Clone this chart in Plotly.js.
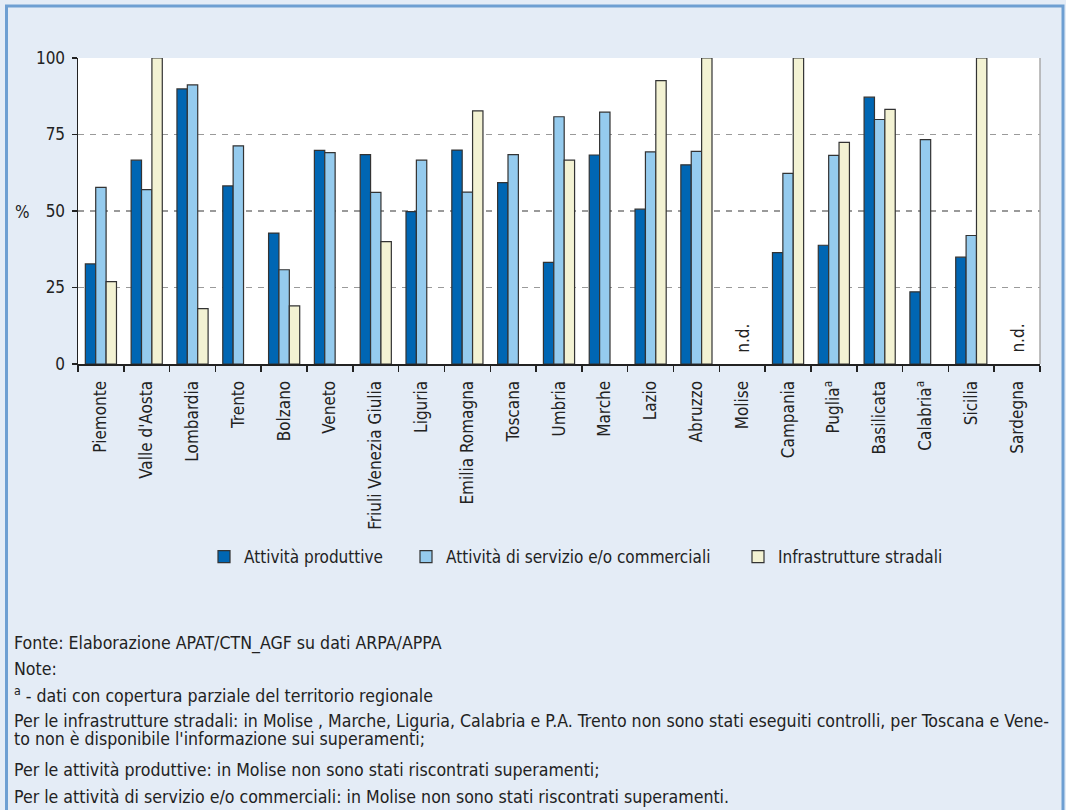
<!DOCTYPE html>
<html>
<head>
<meta charset="utf-8">
<script src="https://cdn.plot.ly/plotly-3.0.1.min.js"></script>
<style>
  html, body { margin: 0; padding: 0; background: #e4ecf6; }
  #chart { width: 1066px; height: 810px; }
</style>
</head>
<body>
<div id="chart"></div>
<script>
// ---- data ----
const regions = ["Piemonte", "Valle d'Aosta", "Lombardia", "Trento", "Bolzano", "Veneto",
  "Friuli Venezia Giulia", "Liguria", "Emilia Romagna", "Toscana", "Umbria", "Marche",
  "Lazio", "Abruzzo", "Molise", "Campania", "Puglia<sup>a</sup>", "Basilicata",
  "Calabria<sup>a</sup>", "Sicilia", "Sardegna"];
const attivitaProduttive = [32.7, 66.6, 89.9, 58.2, 42.8, 69.8, 68.4, 49.8, 69.9, 59.3, 33.2,
  68.3, 50.6, 65.1, null, 36.4, 38.8, 87.2, 23.6, 34.9, null];
const attivitaServizio = [57.7, 57.0, 91.2, 71.3, 30.8, 69.1, 56.1, 66.6, 56.2, 68.4, 80.8,
  82.3, 69.3, 69.5, null, 62.3, 68.2, 79.9, 73.3, 42.0, null];
const infrastrutture = [26.9, 100, 18.1, null, 19.0, null, 40.0, null, 82.7, null, 66.6,
  null, 92.6, 100, null, 100, 72.4, 83.2, null, 100, null];
const seriesNames = ["Attività produttive", "Attività di servizio e/o commerciali", "Infrastrutture stradali"];
const ndRegions = ["Molise", "Sardegna"];
const yTicks = [0, 25, 50, 75, 100];
const notes = [
  "Fonte: Elaborazione APAT/CTN_AGF su dati ARPA/APPA",
  "Note:",
  "<sup>a</sup> - dati con copertura parziale del territorio regionale",
  "Per le infrastrutture stradali: in Molise , Marche, Liguria, Calabria e P.A. Trento non sono stati eseguiti controlli, per Toscana e Vene-",
  "to non è disponibile l'informazione sui superamenti;",
  "Per le attività produttive: in Molise non sono stati riscontrati superamenti;",
  "Per le attività di servizio e/o commerciali: in Molise non sono stati riscontrati superamenti."
];
const noteY = [643, 669, 695, 721, 739, 770, 797];

// ---- layout helpers ----
const W = 1066, H = 810;
const M = {l: 78, r: 26, t: 58, b: 446};
const PW = W - M.l - M.r, PH = H - M.t - M.b;
const px = x => (x - M.l) / PW;
const py = y => (H - M.b - y) / PH;

const FONT = "'DejaVu Sans Condensed', 'Liberation Sans Narrow', sans-serif";
const colors = ["#0066b3", "#95cbee", "#f3f2d3"];
const vals = [attivitaProduttive, attivitaServizio, infrastrutture];
const legendIds = ["legend", "legend2", "legend3"];
const legendLeft = [204, 406, 738];

const traces = vals.map((v, i) => ({
  type: "bar",
  x: regions,
  y: v,
  name: seriesNames[i],
  legend: legendIds[i],
  marker: {color: colors[i], line: {color: "#333333", width: 1.2}},
  hoverinfo: "x+y"
}));

const annotations = [];
ndRegions.forEach(r => annotations.push({
  x: r, y: 0, xref: "x", yref: "y", text: "n.d.", showarrow: false,
  textangle: -90, yanchor: "bottom", xanchor: "center", yshift: 9,
  font: {family: FONT, size: 17, color: "#222"}
}));
annotations.push({
  x: px(22), y: py(212), xref: "paper", yref: "paper", text: "%", showarrow: false,
  xanchor: "center", yanchor: "middle", font: {family: FONT, size: 17, color: "#222"}
});
notes.forEach((t, i) => annotations.push({
  x: px(12), y: py(noteY[i]), xref: "paper", yref: "paper", text: t, showarrow: false,
  xanchor: "left", yanchor: "middle", align: "left",
  font: {family: FONT, size: 17.6, color: "#222"}
}));

const layout = {
  width: W, height: H,
  margin: M,
  paper_bgcolor: "#e4ecf6",
  plot_bgcolor: "#ffffff",
  barmode: "group",
  bargap: 0.32,
  bargroupgap: 0,
  font: {family: FONT, size: 17, color: "#222"},
  showlegend: true,
  xaxis: {
    type: "category", tickangle: -90, tickson: "boundaries", ticks: "outside",
    ticklen: 6, tickcolor: "#222", tickwidth: 1.5, ticklabelstandoff: 8,
    showline: true, linecolor: "#222", linewidth: 2, showgrid: false,
    tickfont: {family: FONT, size: 17, color: "#222"}, fixedrange: true
  },
  yaxis: {
    range: [0, 100], tickvals: yTicks, ticks: "outside", ticklen: 5, tickcolor: "#222",
    tickwidth: 1.5, showline: true, linecolor: "#222", linewidth: 1.5, ticklabelstandoff: 3,
    showgrid: true, gridcolor: "#9a9a9a", gridwidth: 1.5, griddash: "6px,6px",
    zeroline: false, tickfont: {family: FONT, size: 17, color: "#222"}, fixedrange: true
  },
  annotations: annotations,
  shapes: [
    {type: "line", xref: "paper", yref: "paper", x0: 1, x1: 1, y0: 0, y1: 1,
     line: {color: "#aaaaaa", width: 1.5}},
    {type: "rect", xref: "paper", yref: "paper", x0: px(6.5), x1: px(1063), y0: py(6), y1: py(830),
     line: {color: "#6e9fd2", width: 3}, fillcolor: "rgba(0,0,0,0)", layer: "above"}
  ]
};
legendIds.forEach((id, i) => {
  layout[id] = {
    orientation: "h", x: px(legendLeft[i]), xanchor: "left", y: py(557), yanchor: "middle",
    bgcolor: "rgba(0,0,0,0)", font: {family: FONT, size: 17, color: "#222"}, itemwidth: 30
  };
});

Plotly.newPlot("chart", traces, layout, {displayModeBar: false, staticPlot: true});
</script>
</body>
</html>
